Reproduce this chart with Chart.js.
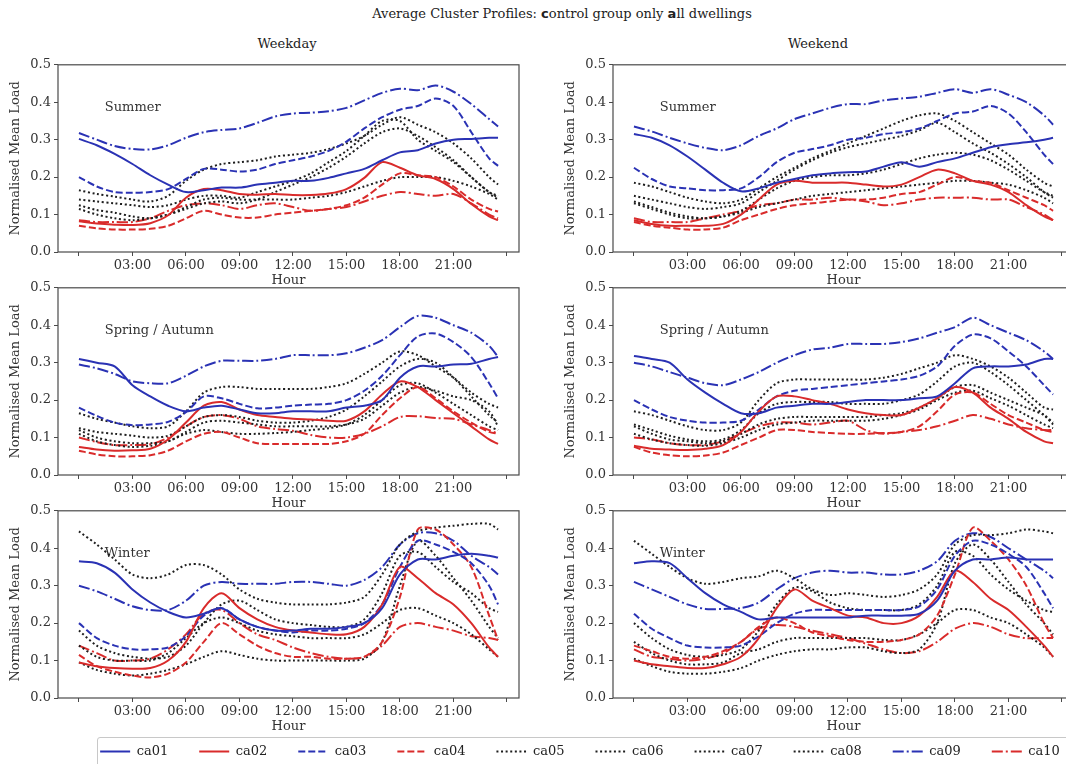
<!DOCTYPE html>
<html>
<head>
<meta charset="utf-8">
<script src="https://cdn.jsdelivr.net/npm/chart.js@4.4.1/dist/chart.umd.min.js"></script>
<style>
  body { margin: 0; width: 1066px; height: 764px; overflow: hidden; background: #fff; position: relative; font-family: 'DejaVu Serif', serif; color: #222; }
  canvas { position: absolute; }
  .txt { position: absolute; font-size: 13px; line-height: 16px; text-align: center; white-space: nowrap; }
  #legendBox { position: absolute; left: 97px; top: 737px; width: 1000px; height: 40px; border: 1px solid #c8c8c8; border-radius: 3px; }
</style>
</head>
<body>
<div class="txt" style="left:0; top:6px; width:1124px;">Average Cluster Profiles: <b style="font-family:'DejaVu Sans'">c</b>ontrol group only <b style="font-family:'DejaVu Sans'">a</b>ll dwellings</div>
<div class="txt" style="left:187px; top:36px; width:200px;">Weekday</div>
<div class="txt" style="left:718px; top:36px; width:200px;">Weekend</div>
<div id="legendBox"></div>
<canvas id="wdSummer" width="530" height="238" style="left:0; top:54px;"></canvas>
<canvas id="weSummer" width="530" height="238" style="left:555px; top:54px;"></canvas>
<canvas id="wdSpring" width="530" height="238" style="left:0; top:277px;"></canvas>
<canvas id="weSpring" width="530" height="238" style="left:555px; top:277px;"></canvas>
<canvas id="wdWinter" width="530" height="238" style="left:0; top:500px;"></canvas>
<canvas id="weWinter" width="530" height="238" style="left:555px; top:500px;"></canvas>
<canvas id="legend" width="1060" height="200" style="left:50px; top:714px;"></canvas>
<script>
// half-hour profile (last point 23:30)
const hours = [0, 1, 2, 3, 4, 5, 6, 7, 8, 9, 10, 11, 12, 13, 14, 15, 16, 17, 18, 19, 20, 21, 22, 23, 23.5];
const seriesNames = ['ca01', 'ca02', 'ca03', 'ca04', 'ca05', 'ca06', 'ca07', 'ca08', 'ca09', 'ca10'];
const xTickValues = [0, 3, 6, 9, 12, 15, 18, 21, 24];
const xTickLabels = ['', '03:00', '06:00', '09:00', '12:00', '15:00', '18:00', '21:00', ''];
const yTickValues = [0, 0.1, 0.2, 0.3, 0.4, 0.5];

// rows: ca01 .. ca10
const wdSummer = [
  [.302,.285,.262,.235,.205,.18,.16,.165,.172,.172,.18,.185,.19,.19,.198,.21,.222,.245,.266,.272,.29,.30,.302,.305,.305],
  [.082,.076,.073,.072,.077,.098,.145,.168,.165,.155,.153,.155,.152,.152,.156,.168,.198,.24,.225,.205,.195,.168,.128,.095,.085],
  [.2,.175,.16,.158,.16,.168,.195,.222,.22,.215,.22,.235,.245,.255,.27,.295,.33,.36,.38,.39,.41,.39,.32,.25,.23],
  [.07,.063,.06,.06,.062,.07,.09,.11,.1,.092,.092,.1,.105,.11,.115,.125,.145,.18,.21,.205,.2,.175,.14,.115,.108],
  [.165,.155,.148,.14,.135,.15,.19,.22,.235,.24,.245,.255,.26,.265,.275,.29,.31,.34,.36,.34,.32,.29,.25,.2,.18],
  [.14,.135,.13,.125,.12,.125,.14,.15,.15,.145,.16,.175,.19,.21,.24,.27,.31,.35,.35,.3,.27,.24,.2,.16,.15],
  [.125,.112,.105,.095,.09,.1,.12,.14,.145,.14,.14,.14,.14,.145,.15,.16,.175,.19,.2,.2,.2,.19,.175,.155,.14],
  [.115,.1,.09,.085,.09,.1,.115,.13,.135,.13,.14,.16,.18,.2,.225,.255,.29,.32,.33,.31,.28,.245,.2,.16,.145],
  [.318,.3,.283,.275,.274,.285,.305,.32,.326,.33,.345,.362,.37,.372,.376,.385,.405,.425,.436,.432,.445,.428,.395,.355,.335],
  [.085,.08,.08,.08,.09,.11,.125,.13,.125,.115,.125,.13,.12,.11,.115,.12,.135,.15,.16,.155,.15,.155,.13,.1,.09]
];
const weSummer = [
  [.315,.305,.285,.255,.22,.185,.162,.17,.185,.195,.205,.21,.213,.215,.228,.24,.228,.24,.25,.265,.28,.288,.293,.3,.305],
  [.085,.075,.07,.07,.07,.075,.1,.14,.18,.19,.185,.185,.185,.18,.175,.18,.2,.22,.21,.19,.18,.16,.125,.095,.085],
  [.225,.195,.175,.17,.165,.165,.17,.2,.24,.265,.275,.285,.3,.305,.315,.32,.33,.35,.37,.375,.39,.37,.32,.26,.235],
  [.08,.07,.065,.06,.06,.065,.085,.1,.115,.125,.13,.135,.14,.14,.145,.155,.16,.18,.2,.19,.185,.165,.145,.125,.11],
  [.185,.175,.16,.145,.135,.13,.14,.17,.2,.225,.25,.27,.29,.31,.33,.35,.365,.37,.35,.32,.29,.26,.22,.185,.175],
  [.15,.14,.13,.12,.115,.12,.13,.16,.19,.22,.245,.265,.28,.29,.3,.31,.325,.345,.32,.29,.265,.235,.2,.16,.145],
  [.135,.12,.105,.095,.09,.095,.105,.12,.13,.14,.15,.155,.16,.165,.17,.175,.18,.185,.19,.19,.185,.18,.165,.145,.13],
  [.13,.115,.1,.09,.09,.095,.11,.14,.17,.19,.2,.205,.205,.21,.22,.235,.25,.26,.265,.26,.245,.22,.19,.16,.15],
  [.335,.322,.305,.29,.278,.272,.285,.31,.33,.355,.37,.385,.395,.395,.405,.41,.415,.425,.435,.425,.435,.42,.4,.365,.34],
  [.09,.08,.08,.08,.09,.1,.11,.125,.13,.14,.14,.145,.14,.135,.125,.13,.14,.145,.145,.145,.14,.14,.12,.1,.085]
];
const wdSpring = [
  [.31,.3,.29,.24,.21,.185,.17,.18,.185,.175,.165,.165,.17,.17,.17,.18,.185,.2,.26,.29,.29,.295,.297,.31,.315],
  [.075,.068,.065,.066,.07,.095,.14,.185,.195,.175,.16,.155,.15,.148,.145,.145,.17,.215,.25,.235,.2,.165,.13,.095,.083],
  [.18,.158,.14,.133,.135,.142,.168,.21,.205,.19,.178,.18,.185,.188,.19,.2,.225,.265,.32,.37,.378,.355,.315,.245,.205],
  [.065,.055,.05,.05,.053,.065,.09,.11,.115,.1,.085,.083,.083,.083,.083,.09,.11,.16,.205,.235,.205,.17,.14,.115,.11],
  [.165,.15,.14,.13,.125,.13,.17,.22,.235,.235,.23,.23,.23,.23,.235,.245,.27,.3,.33,.32,.29,.26,.22,.19,.18],
  [.125,.115,.11,.105,.1,.105,.13,.155,.16,.155,.145,.14,.14,.145,.155,.175,.21,.25,.29,.31,.3,.26,.21,.16,.14],
  [.12,.1,.09,.085,.085,.09,.115,.14,.145,.14,.135,.13,.13,.13,.13,.135,.15,.185,.22,.235,.225,.21,.2,.17,.13],
  [.11,.09,.08,.075,.078,.09,.11,.12,.115,.11,.11,.112,.115,.12,.125,.135,.16,.2,.24,.245,.22,.19,.16,.13,.12],
  [.295,.285,.27,.25,.245,.245,.265,.29,.305,.305,.305,.31,.32,.32,.32,.325,.34,.36,.395,.425,.42,.4,.38,.345,.315],
  [.1,.088,.08,.08,.082,.1,.13,.155,.16,.15,.13,.123,.118,.107,.1,.1,.11,.13,.155,.157,.152,.15,.135,.12,.11]
];
const weSpring = [
  [.318,.31,.3,.255,.22,.19,.165,.165,.18,.185,.19,.19,.195,.2,.2,.2,.205,.21,.245,.285,.29,.29,.295,.31,.31],
  [.078,.07,.068,.067,.07,.08,.115,.17,.21,.21,.2,.19,.175,.165,.16,.16,.18,.205,.235,.22,.18,.15,.115,.09,.085],
  [.2,.175,.155,.145,.14,.14,.145,.175,.21,.225,.23,.235,.24,.245,.25,.255,.265,.29,.345,.375,.365,.33,.29,.24,.215],
  [.075,.06,.053,.05,.052,.06,.08,.1,.12,.12,.115,.112,.11,.11,.112,.115,.13,.17,.215,.22,.19,.16,.14,.12,.115],
  [.17,.16,.145,.13,.12,.12,.14,.2,.245,.255,.255,.255,.255,.255,.26,.27,.285,.3,.32,.31,.29,.26,.22,.18,.175],
  [.135,.12,.105,.095,.09,.095,.12,.165,.19,.195,.195,.195,.19,.19,.19,.2,.215,.25,.29,.3,.275,.24,.2,.16,.135],
  [.13,.11,.095,.09,.085,.09,.11,.135,.15,.155,.155,.155,.155,.155,.16,.165,.18,.205,.235,.24,.22,.2,.18,.16,.14],
  [.11,.095,.085,.08,.078,.085,.1,.12,.135,.14,.145,.145,.145,.145,.15,.16,.175,.2,.22,.225,.205,.185,.16,.135,.125],
  [.3,.29,.275,.26,.245,.24,.255,.275,.3,.32,.335,.34,.35,.35,.35,.355,.365,.38,.395,.42,.4,.38,.36,.33,.31],
  [.1,.095,.085,.08,.08,.09,.11,.13,.14,.14,.135,.14,.145,.12,.11,.115,.12,.13,.145,.16,.15,.135,.125,.12,.12]
];
const wdWinter = [
  [.365,.36,.335,.29,.255,.23,.215,.225,.24,.21,.19,.18,.18,.185,.185,.19,.2,.24,.33,.37,.37,.38,.385,.38,.375],
  [.095,.085,.08,.078,.08,.1,.15,.24,.28,.24,.21,.19,.18,.175,.17,.17,.19,.25,.35,.32,.28,.25,.2,.135,.11],
  [.2,.16,.14,.13,.13,.135,.165,.22,.24,.21,.19,.18,.175,.18,.18,.185,.2,.25,.35,.42,.41,.39,.36,.3,.25],
  [.115,.085,.07,.06,.055,.065,.095,.15,.2,.17,.14,.12,.11,.11,.105,.105,.11,.15,.27,.45,.45,.41,.35,.22,.155],
  [.445,.41,.37,.33,.32,.33,.355,.355,.33,.29,.265,.255,.25,.25,.25,.255,.27,.33,.41,.445,.455,.46,.465,.465,.45],
  [.18,.14,.12,.11,.105,.11,.14,.2,.25,.26,.235,.21,.2,.195,.19,.19,.21,.28,.38,.39,.35,.31,.28,.24,.23],
  [.14,.11,.1,.1,.1,.12,.16,.2,.215,.2,.18,.17,.165,.16,.16,.16,.17,.2,.235,.24,.22,.2,.17,.13,.11],
  [.095,.075,.065,.06,.065,.075,.09,.11,.125,.115,.105,.1,.1,.1,.1,.1,.105,.15,.3,.42,.38,.32,.26,.19,.16],
  [.3,.285,.265,.245,.235,.235,.26,.3,.31,.305,.305,.305,.31,.31,.305,.3,.315,.35,.41,.44,.44,.42,.38,.35,.33],
  [.14,.12,.1,.1,.105,.13,.17,.225,.235,.2,.17,.155,.135,.12,.11,.105,.11,.14,.19,.2,.19,.18,.165,.16,.155]
];
const weWinter = [
  [.36,.365,.36,.32,.28,.25,.23,.21,.215,.215,.215,.215,.215,.22,.22,.22,.225,.26,.34,.37,.37,.375,.37,.37,.37],
  [.1,.09,.085,.08,.08,.09,.11,.16,.24,.29,.26,.24,.22,.215,.2,.2,.22,.27,.34,.31,.265,.235,.19,.14,.11],
  [.225,.185,.16,.14,.135,.135,.14,.165,.2,.225,.235,.235,.235,.235,.235,.235,.245,.29,.38,.42,.41,.385,.35,.28,.24],
  [.14,.125,.11,.105,.11,.125,.15,.19,.215,.2,.175,.165,.155,.15,.15,.155,.17,.22,.33,.455,.42,.37,.3,.2,.16],
  [.42,.385,.35,.32,.305,.31,.32,.325,.34,.32,.29,.275,.28,.275,.27,.275,.29,.33,.41,.435,.435,.44,.45,.445,.44],
  [.2,.16,.13,.115,.11,.115,.13,.18,.25,.295,.285,.255,.24,.235,.235,.235,.25,.3,.39,.38,.33,.29,.26,.235,.23],
  [.15,.12,.1,.09,.09,.095,.12,.13,.15,.16,.16,.16,.16,.16,.155,.155,.17,.2,.235,.235,.215,.2,.17,.135,.11],
  [.105,.085,.07,.065,.065,.07,.08,.1,.115,.125,.13,.13,.135,.135,.125,.12,.13,.2,.36,.41,.37,.31,.25,.2,.17],
  [.31,.29,.27,.25,.238,.238,.24,.255,.29,.32,.335,.34,.335,.335,.33,.33,.34,.365,.42,.44,.43,.4,.37,.34,.32],
  [.13,.11,.105,.1,.105,.12,.15,.185,.195,.19,.18,.17,.16,.145,.13,.12,.125,.15,.185,.2,.19,.17,.16,.16,.16]
];

const BLUE = '#2a32b4', RED = '#d92b2b', BLACK = '#1e1e1e';
const SOLID = [], DASH = [7, 3], DOT = [2, 2.6], DASHDOT = [11, 3, 2, 3];
const seriesColors = [BLUE, RED, BLUE, RED, BLACK, BLACK, BLACK, BLACK, BLUE, RED];
const seriesDash = [SOLID, SOLID, DASH, DASH, DOT, DOT, DOT, DOT, DASHDOT, DASHDOT];

const FONT = { family: "'DejaVu Serif', serif", size: 13 };
const FRAME = '#4a4a4a';
Chart.defaults.color = '#333';
Chart.defaults.font = FONT;

// matplotlib-style box around the axes
const framePlugin = {
  id: 'frame',
  afterDraw(chart) {
    const a = chart.chartArea, ctx = chart.ctx;
    ctx.save();
    ctx.strokeStyle = FRAME;
    ctx.lineWidth = 1.2;
    ctx.strokeRect(a.left, a.top, a.right - a.left, a.bottom - a.top);
    ctx.restore();
  }
};

const seasonPlugin = {
  id: 'season',
  beforeDatasetsDraw(chart, args, opts) {
    const ctx = chart.ctx;
    ctx.save();
    ctx.font = "13px 'DejaVu Serif', serif";
    ctx.fillStyle = '#333';
    ctx.textBaseline = 'middle';
    ctx.fillText(opts.text, chart.scales.x.getPixelForValue(1.45), chart.scales.y.getPixelForValue(0.385));
    ctx.restore();
  }
};

function makePanel(id, rows, season) {
  return new Chart(document.getElementById(id), {
    type: 'line',
    data: {
      datasets: rows.map((vals, i) => ({
        label: seriesNames[i],
        data: vals.map((v, j) => ({ x: hours[j], y: v })),
        borderColor: seriesColors[i],
        borderDash: seriesDash[i],
        borderWidth: 2,
        pointRadius: 0,
        tension: 0.3,
        fill: false
      }))
    },
    options: {
      responsive: false,
      animation: false,
      layout: { padding: { top: 10, right: 11, left: 0, bottom: 0 } },
      plugins: { legend: { display: false }, tooltip: { enabled: false }, season: { text: season } },
      scales: {
        x: {
          type: 'linear', min: -1.175, max: 24.675,
          afterBuildTicks: s => { s.ticks = xTickValues.map(v => ({ value: v })); },
          afterFit: s => { s.height = 40; },
          ticks: { autoSkip: false, maxRotation: 0, padding: 2, callback: (v, i) => xTickLabels[i] },
          grid: { drawOnChartArea: false, tickLength: 4, color: FRAME },
          border: { display: false },
          title: { display: true, text: 'Hour', padding: { top: 0, bottom: 4 } }
        },
        y: {
          min: 0, max: 0.5,
          afterBuildTicks: s => { s.ticks = yTickValues.map(v => ({ value: v })); },
          afterFit: s => { s.width = 58; },
          ticks: { padding: 3, callback: v => v.toFixed(1) },
          grid: { drawOnChartArea: false, tickLength: 4, color: FRAME },
          border: { display: false },
          title: { display: true, text: 'Normalised Mean Load', padding: { top: 8, bottom: 0 } }
        }
      }
    },
    plugins: [framePlugin, seasonPlugin]
  });
}

makePanel('wdSummer', wdSummer, 'Summer');
makePanel('weSummer', weSummer, 'Summer');
makePanel('wdSpring', wdSpring, 'Spring / Autumn');
makePanel('weSpring', weSpring, 'Spring / Autumn');
makePanel('wdWinter', wdWinter, 'Winter');
makePanel('weWinter', weWinter, 'Winter');

// shared legend along the bottom
new Chart(document.getElementById('legend'), {
  type: 'line',
  data: {
    datasets: seriesNames.map((name, i) => ({
      label: name, data: [],
      borderColor: seriesColors[i], backgroundColor: seriesColors[i],
      borderDash: seriesDash[i], borderWidth: 2
    }))
  },
  options: {
    responsive: false,
    animation: false,
    scales: { x: { display: false }, y: { display: false } },
    plugins: {
      tooltip: { enabled: false },
      legend: {
        position: 'top',
        labels: {
          usePointStyle: true, pointStyle: 'line', pointStyleWidth: 30, padding: 31, color: '#222',
          font: { family: "'DejaVu Serif', serif", size: 13 },
          generateLabels: chart => chart.data.datasets.map((ds, i) => ({
            text: ds.label,
            strokeStyle: ds.borderColor,
            fillStyle: ds.borderColor,
            lineWidth: 2,
            lineDash: ds.borderDash,
            pointStyle: 'line',
            fontColor: '#222',
            hidden: false,
            datasetIndex: i
          }))
        }
      }
    }
  }
});
</script>
</body>
</html>
